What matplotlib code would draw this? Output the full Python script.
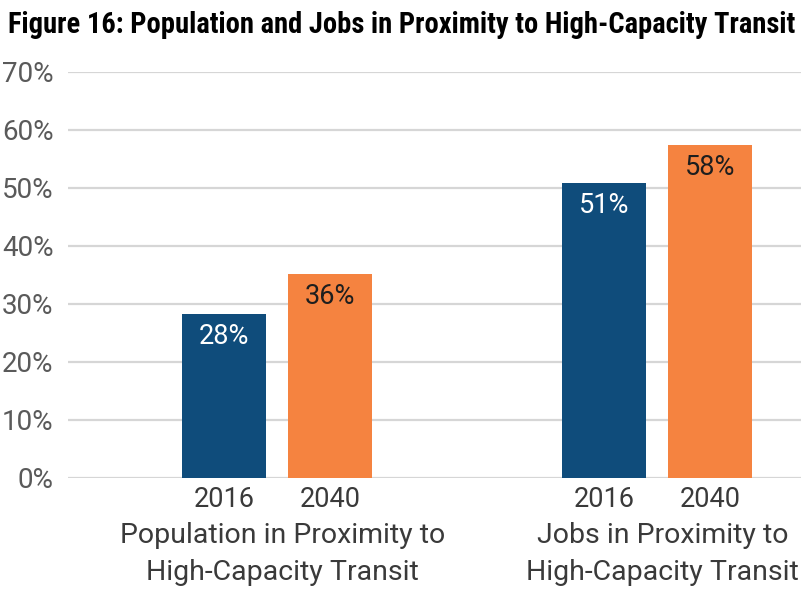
import matplotlib
matplotlib.use("Agg")
import matplotlib.pyplot as plt
from matplotlib.ticker import FuncFormatter

# ---------------------------------------------------------
# Data
# ---------------------------------------------------------
groups = ["Population in Proximity to\nHigh-Capacity Transit",
          "Jobs in Proximity to\nHigh-Capacity Transit"]
years = ["2016", "2040"]
values_2016 = [28.2, 50.8]
values_2040 = [35.2, 57.4]
labels_2016 = ["28%", "51%"]
labels_2040 = ["36%", "58%"]
y_ticks = [0, 10, 20, 30, 40, 50, 60, 70]

title = "Figure 16: Population and Jobs in Proximity to High-Capacity Transit"

# ---------------------------------------------------------
# Style
# ---------------------------------------------------------
plt.rcParams['font.family'] = ['Roboto', 'DejaVu Sans']
BLUE = "#0f4c7b"
ORANGE = "#f58340"
GRID = "#d6d6d6"
TXT = "#3a3a3a"

fig = plt.figure(figsize=(8.01, 5.91), dpi=100)
ax = fig.add_axes([68 / 801, 1 - 478 / 591, 1 - 68 / 801, (478 - 72) / 591])

offset = 0.1395
width = 0.221
x = list(range(len(groups)))
x_2016 = [g - offset for g in x]
x_2040 = [g + offset for g in x]

ax.bar(x_2016, values_2016, width=width, color=BLUE, zorder=3)
ax.bar(x_2040, values_2040, width=width, color=ORANGE, zorder=3)

for xs, vs, labs, col in [(x_2016, values_2016, labels_2016, "white"),
                          (x_2040, values_2040, labels_2040, "#1e1e1e")]:
    for xi, v, lab in zip(xs, vs, labs):
        ax.annotate(lab, xy=(xi, v), xytext=(0, -21.5), textcoords="offset points",
                    ha="center", va="baseline", fontsize=19.5,
                    color=col, zorder=4)

ax.set_xlim(-0.55, 1.379)
ax.set_ylim(0, 70)
ax.set_yticks(y_ticks)
ax.yaxis.set_major_formatter(FuncFormatter(lambda v, p: f"{v:.0f}%"))
ax.grid(axis="y", color=GRID, linewidth=1.6, zorder=0)
for s in ax.spines.values():
    s.set_visible(False)
ax.tick_params(axis="y", length=0, pad=10.5, labelsize=20, labelcolor="#5a5a5a")
ax.set_xticks(x_2016 + x_2040)
ax.set_xticklabels([years[0]] * len(groups) + [years[1]] * len(groups))
ax.tick_params(axis="x", length=0, pad=6, labelsize=19.5, labelcolor=TXT)

for g, name in zip(x, groups):
    ax.annotate(name, xy=(g, 0), xycoords=("data", "axes fraction"),
                xytext=(4, -31.5), textcoords="offset points",
                ha="center", va="top", fontsize=20.5,
                color=TXT, linespacing=1.5)

t = fig.text(8 / 801, 1 - 25 / 591, title, ha="left", va="center",
             fontsize=16, fontweight="bold", color="black",
             family=['Roboto Condensed', 'DejaVu Sans'])
# shrink the title until it spans the same width as in the reference
fig.canvas.draw()
w = t.get_window_extent().width
t.set_fontsize(16 * 787 / w)

fig.savefig("out.png", dpi=100)
